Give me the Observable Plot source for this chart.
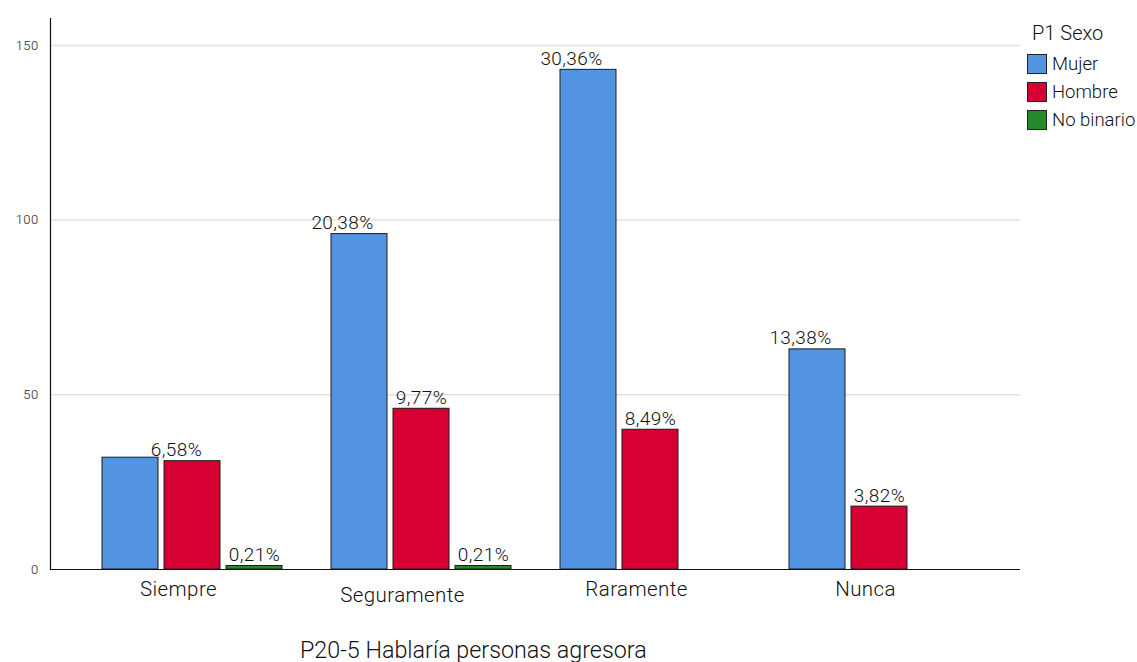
<!DOCTYPE html>
<html>
<head>
<meta charset="utf-8">
<script src="https://cdn.jsdelivr.net/npm/d3@7"></script>
<script src="https://cdn.jsdelivr.net/npm/@observablehq/plot@0.6"></script>
<style>
  body { margin: 0; background: #fff; font-family: Roboto, sans-serif; }
  #wrap { position: relative; width: 1137px; height: 662px; }
  #legend { position: absolute; left: 1027px; top: 19px; color: #111; font-weight: 300; }
  #legend .lt { font-size: 20px; margin-left: 5px; height: 31px; line-height: 28px; }
  #legend .it { display: flex; align-items: center; height: 28px; font-size: 18.5px; }
  #legend .sw { width: 20px; height: 20px; border: 1px solid #222; box-sizing: border-box; margin-right: 5px; }
  #title { position: absolute; left: 300px; top: 636px; font-size: 23.3px; color: #111; white-space: nowrap; font-weight: 300; }
  svg text { font-weight: 300; }
</style>
</head>
<body>
<div id="wrap">
  <div id="chart"></div>
  <div id="legend"></div>
  <div id="title"></div>
</div>
<script>
const categories = ["Siempre", "Seguramente", "Raramente", "Nunca"];
const sexes = ["Mujer", "Hombre", "No binario"];
const colors = ["#5294e2", "#d60032", "#26892a"];
const mujer = [32, 96, 143, 63];
const hombre = [31, 46, 40, 18];
const noBinario = [1, 1, 0, 0];
const mujerLabels = [null, "20,38%", "30,36%", "13,38%"];
const hombreLabels = ["6,58%", "9,77%", "8,49%", "3,82%"];
const noBinarioLabels = ["0,21%", "0,21%", null, null];
const yTicks = [0, 50, 100, 150];
const legendTitle = "P1 Sexo";
const chartTitle = "P20-5 Hablaría personas agresora";

const series = [mujer, hombre, noBinario];
const seriesLabels = [mujerLabels, hombreLabels, noBinarioLabels];
const offsets = [-62, 0, 62];
const rows = [];
categories.forEach((c, i) => {
  series.forEach((vals, j) => {
    if (vals[i] > 0) rows.push({cat: c, sex: sexes[j], value: vals[i], label: seriesLabels[j][i]});
  });
});

const barMarks = sexes.map((s, j) => Plot.barY(rows.filter(d => d.sex === s), {
  x: "cat", y: "value", fill: "sex", stroke: "#1a1a1a", strokeWidth: 1, dx: offsets[j]
}));

const labelMark = (filter, dx) => Plot.text(rows.filter(d => d.label && filter(d)), {
  x: "cat", y: "value", text: "label",
  lineAnchor: "bottom", dy: -5, dx, fontSize: 19, fill: "#111"
});

const chart = Plot.plot({
  width: 1137,
  height: 620,
  marginLeft: 50,
  marginRight: 117,
  marginTop: 18,
  marginBottom: 51,
  style: {fontFamily: "Roboto, sans-serif", background: "#fff", letterSpacing: "0.4px"},
  x: {domain: categories, paddingInner: 0.7555, paddingOuter: 0.4956, axis: null},
  y: {domain: [0, 157.7], axis: null},
  color: {domain: sexes, range: colors},
  marks: [
    Plot.gridY(yTicks.filter(d => d > 0), {stroke: "#e2e2e2", strokeOpacity: 1, strokeWidth: 1.5}),
    Plot.axisY(yTicks, {tickSize: 0, tickPadding: 12, fontSize: 13, fill: "#222", label: null}),
    ...barMarks,
    Plot.ruleY([0], {stroke: "#111", strokeWidth: 1.2}),
    Plot.frame({anchor: "left", stroke: "#111", strokeWidth: 1.2}),
    labelMark(d => d.sex === "Mujer", -62 - 17),
    labelMark(d => d.sex === "Hombre" && d.cat === "Siempre", -16),
    labelMark(d => d.sex === "Hombre" && d.cat !== "Siempre", 0),
    labelMark(d => d.sex === "No binario", 62),
    Plot.text(categories.filter(c => c !== "Seguramente"), {x: d => d, text: d => d, frameAnchor: "bottom", lineAnchor: "top", dy: 12, dx: -14, fontSize: 20.5, fill: "#111"}),
    Plot.text(categories.filter(c => c === "Seguramente"), {x: d => d, text: d => d, frameAnchor: "bottom", lineAnchor: "top", dy: 18, dx: -19, fontSize: 20.5, fill: "#111"})
  ]
});
document.getElementById("chart").appendChild(chart);

const legend = document.getElementById("legend");
legend.innerHTML = `<div class="lt">${legendTitle}</div>` +
  sexes.map((s, i) => `<div class="it"><div class="sw" style="background:${colors[i]}"></div>${s}</div>`).join("");
document.getElementById("title").textContent = chartTitle;
</script>
</body>
</html>
